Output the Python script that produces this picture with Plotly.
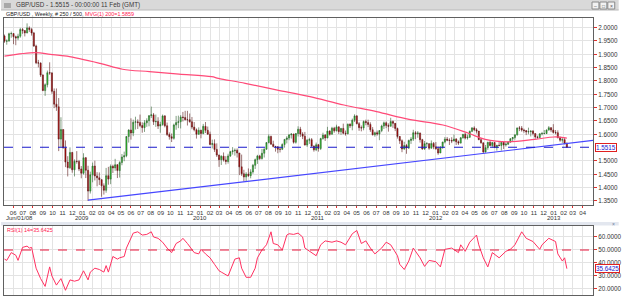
import plotly.graph_objects as go
import pandas as pd

# ---------------- data ----------------
first_week = "2008-05-05"
n_weeks = 250
first_open = 1.9690

close = [
    1.9490, 1.9500, 1.9770, 1.9780, 1.9660, 1.9610, 1.9680, 1.9930, 1.9890, 1.9800,
    1.9990, 1.9930, 1.9800, 1.9310, 1.8680, 1.8670, 1.8220, 1.7640, 1.7860, 1.8310,
    1.8300, 1.7610, 1.7130, 1.7030, 1.5820, 1.6180, 1.5490, 1.4960, 1.4750, 1.5320,
    1.4670, 1.4990, 1.4980, 1.4700, 1.4540, 1.5120, 1.4650, 1.3870, 1.4480, 1.4810,
    1.4440, 1.4370, 1.4300, 1.4070, 1.3900, 1.4450, 1.4320, 1.4800, 1.4740, 1.4860,
    1.4640, 1.4940, 1.5150, 1.5200, 1.5920, 1.6160, 1.6050, 1.6450, 1.6470, 1.6440,
    1.6330, 1.6250, 1.6430, 1.6510, 1.6700, 1.6730, 1.6470, 1.6480, 1.6310, 1.6370,
    1.6690, 1.6320, 1.5990, 1.5910, 1.5850, 1.6350, 1.6440, 1.6470, 1.6650, 1.6630,
    1.6550, 1.6550, 1.6470, 1.6270, 1.6170, 1.6000, 1.6150, 1.6030, 1.6300, 1.6150,
    1.6000, 1.5620, 1.5650, 1.5430, 1.5220, 1.5050, 1.5180, 1.5040, 1.4980, 1.5190,
    1.5350, 1.5380, 1.5400, 1.5300, 1.4780, 1.4520, 1.4400, 1.4510, 1.4450, 1.4590,
    1.4840, 1.5050, 1.5190, 1.5090, 1.5290, 1.5440, 1.5690, 1.5920, 1.5630, 1.5540,
    1.5530, 1.5440, 1.5440, 1.5620, 1.5810, 1.5860, 1.5980, 1.6010, 1.5700, 1.6030,
    1.6190, 1.6010, 1.5930, 1.5600, 1.5780, 1.5800, 1.5560, 1.5420, 1.5610, 1.5470,
    1.5840, 1.5970, 1.5860, 1.6120, 1.6000, 1.6230, 1.6130, 1.6280, 1.6100, 1.6220,
    1.6040, 1.6020, 1.6380, 1.6320, 1.6530, 1.6690, 1.6400, 1.6250, 1.6240, 1.6480,
    1.6440, 1.6370, 1.6170, 1.5980, 1.6060, 1.6010, 1.6140, 1.6310, 1.6430, 1.6330,
    1.6300, 1.6480, 1.6410, 1.6220, 1.5920, 1.5760, 1.5450, 1.5580, 1.5490, 1.5770,
    1.5820, 1.6060, 1.6020, 1.6050, 1.5800, 1.5450, 1.5650, 1.5650, 1.5480, 1.5660,
    1.5530, 1.5460, 1.5300, 1.5500, 1.5710, 1.5820, 1.5780, 1.5770, 1.5750, 1.5820,
    1.5720, 1.5670, 1.5870, 1.6000, 1.5860, 1.5890, 1.6110, 1.6240, 1.6170, 1.6120,
    1.5800, 1.5680, 1.5340, 1.5500, 1.5700, 1.5580, 1.5690, 1.5500, 1.5590, 1.5580,
    1.5700, 1.5600, 1.5630, 1.5710, 1.5830, 1.5880, 1.5980, 1.6240, 1.6230, 1.6160,
    1.6140, 1.6090, 1.6100, 1.6120, 1.6030, 1.5900, 1.5880, 1.6020, 1.6030, 1.6030,
    1.6160, 1.6250, 1.6160, 1.6070, 1.6060, 1.5870, 1.5780, 1.5800, 1.5650, 1.5515,
]

high = [
    1.9740, 1.9560, 1.9810, 1.9850, 1.9780, 1.9700, 1.9770, 1.9990, 1.9990, 1.9900,
    2.0160, 2.0050, 1.9990, 1.9840, 1.9360, 1.8790, 1.8700, 1.8250, 1.7910, 1.8390,
    1.8700, 1.8330, 1.7720, 1.7720, 1.7360, 1.6640, 1.6180, 1.5770, 1.5180, 1.5510,
    1.5340, 1.5060, 1.5370, 1.5040, 1.4810, 1.5290, 1.5150, 1.4820, 1.4600, 1.4940,
    1.5010, 1.4580, 1.4570, 1.4310, 1.4160, 1.4740, 1.4780, 1.4870, 1.4860, 1.5080,
    1.4880, 1.4990, 1.5260, 1.5350, 1.5930, 1.6190, 1.6600, 1.6550, 1.6660, 1.6560,
    1.6740, 1.6450, 1.6530, 1.6600, 1.6720, 1.7040, 1.6800, 1.6740, 1.6640, 1.6470,
    1.6740, 1.6720, 1.6440, 1.6070, 1.6030, 1.6400, 1.6690, 1.6700, 1.6720, 1.6840,
    1.6880, 1.6880, 1.6780, 1.6650, 1.6460, 1.6220, 1.6260, 1.6170, 1.6390, 1.6460,
    1.6290, 1.6100, 1.5800, 1.5810, 1.5660, 1.5240, 1.5210, 1.5320, 1.5180, 1.5270,
    1.5380, 1.5520, 1.5470, 1.5470, 1.5300, 1.5240, 1.4670, 1.4580, 1.4720, 1.4690,
    1.4890, 1.5090, 1.5230, 1.5230, 1.5450, 1.5480, 1.5700, 1.6000, 1.5950, 1.5760,
    1.5570, 1.5550, 1.5510, 1.5660, 1.5820, 1.5930, 1.6000, 1.6040, 1.6020, 1.6050,
    1.6300, 1.6280, 1.6080, 1.6090, 1.5820, 1.5870, 1.5860, 1.5580, 1.5690, 1.5640,
    1.5870, 1.6060, 1.6010, 1.6280, 1.6150, 1.6280, 1.6280, 1.6360, 1.6290, 1.6240,
    1.6400, 1.6140, 1.6400, 1.6410, 1.6590, 1.6750, 1.6720, 1.6460, 1.6330, 1.6520,
    1.6550, 1.6550, 1.6450, 1.6270, 1.6100, 1.6140, 1.6160, 1.6360, 1.6480, 1.6480,
    1.6410, 1.6620, 1.6520, 1.6330, 1.6250, 1.5900, 1.5810, 1.5720, 1.5640, 1.5800,
    1.5900, 1.6170, 1.6120, 1.6120, 1.6060, 1.5830, 1.5750, 1.5710, 1.5660, 1.5770,
    1.5710, 1.5710, 1.5540, 1.5560, 1.5720, 1.5900, 1.5900, 1.5850, 1.5890, 1.5990,
    1.5860, 1.5770, 1.5900, 1.6010, 1.6060, 1.5990, 1.6140, 1.6270, 1.6300, 1.6230,
    1.6110, 1.5860, 1.5690, 1.5600, 1.5720, 1.5780, 1.5710, 1.5710, 1.5600, 1.5710,
    1.5710, 1.5700, 1.5700, 1.5740, 1.5860, 1.5900, 1.6000, 1.6250, 1.6310, 1.6310,
    1.6210, 1.6150, 1.6250, 1.6150, 1.6160, 1.6030, 1.5950, 1.6040, 1.6090, 1.6160,
    1.6180, 1.6310, 1.6260, 1.6380, 1.6160, 1.6150, 1.5910, 1.5860, 1.5880, 1.5700,
]

low = [
    1.9430, 1.9360, 1.9470, 1.9620, 1.9380, 1.9340, 1.9530, 1.9620, 1.9770, 1.9670,
    1.9790, 1.9840, 1.9700, 1.9280, 1.8630, 1.8510, 1.8150, 1.7620, 1.7440, 1.7760,
    1.8230, 1.7520, 1.6980, 1.6880, 1.5370, 1.5530, 1.5470, 1.4770, 1.4420, 1.4700,
    1.4560, 1.4420, 1.4900, 1.4620, 1.4350, 1.4490, 1.4360, 1.3500, 1.3780, 1.4200,
    1.4270, 1.4050, 1.4100, 1.3660, 1.3740, 1.3810, 1.4110, 1.4130, 1.4550, 1.4630,
    1.4360, 1.4380, 1.4840, 1.4990, 1.5140, 1.5690, 1.5800, 1.5930, 1.6180, 1.6200,
    1.6270, 1.6060, 1.6090, 1.6280, 1.6300, 1.6610, 1.6350, 1.6280, 1.6200, 1.6060,
    1.6320, 1.6260, 1.5940, 1.5800, 1.5710, 1.5800, 1.6170, 1.6230, 1.6220, 1.6480,
    1.6520, 1.6330, 1.6440, 1.6190, 1.6110, 1.5840, 1.5990, 1.5850, 1.6000, 1.6050,
    1.5990, 1.5590, 1.5470, 1.5340, 1.5150, 1.4780, 1.4850, 1.4980, 1.4870, 1.4900,
    1.5150, 1.5240, 1.5200, 1.5130, 1.4470, 1.4440, 1.4230, 1.4240, 1.4400, 1.4350,
    1.4520, 1.4700, 1.4890, 1.5040, 1.5050, 1.5130, 1.5420, 1.5660, 1.5610, 1.5510,
    1.5350, 1.5290, 1.5320, 1.5410, 1.5500, 1.5660, 1.5780, 1.5840, 1.5650, 1.5650,
    1.5920, 1.5900, 1.5820, 1.5580, 1.5530, 1.5640, 1.5530, 1.5350, 1.5370, 1.5350,
    1.5410, 1.5800, 1.5750, 1.5860, 1.5950, 1.6000, 1.6060, 1.6110, 1.6010, 1.5980,
    1.6000, 1.5950, 1.6000, 1.6240, 1.6150, 1.6460, 1.6370, 1.6130, 1.6110, 1.6150,
    1.6340, 1.6270, 1.6090, 1.5960, 1.5910, 1.5950, 1.5780, 1.6080, 1.6200, 1.6230,
    1.6100, 1.6300, 1.6240, 1.6120, 1.5840, 1.5640, 1.5330, 1.5420, 1.5270, 1.5450,
    1.5640, 1.5750, 1.5820, 1.5870, 1.5690, 1.5420, 1.5420, 1.5530, 1.5420, 1.5470,
    1.5440, 1.5420, 1.5230, 1.5300, 1.5460, 1.5660, 1.5740, 1.5600, 1.5670, 1.5740,
    1.5600, 1.5600, 1.5660, 1.5840, 1.5810, 1.5800, 1.5860, 1.6080, 1.6120, 1.6030,
    1.5780, 1.5650, 1.5270, 1.5310, 1.5420, 1.5550, 1.5500, 1.5490, 1.5390, 1.5550,
    1.5390, 1.5450, 1.5540, 1.5600, 1.5680, 1.5720, 1.5800, 1.5950, 1.6120, 1.6100,
    1.6060, 1.5970, 1.6000, 1.5920, 1.5960, 1.5830, 1.5830, 1.5860, 1.5960, 1.6000,
    1.6010, 1.6140, 1.6080, 1.6030, 1.6000, 1.5850, 1.5720, 1.5680, 1.5630, 1.5490,
]

# 200-week moving average
ma_dates = ["2008-05-05", "2008-08-09", "2008-09-24", "2008-11-15", "2009-02-25",
            "2009-05-06", "2009-07-28", "2009-10-28", "2010-02-06", "2010-02-27",
            "2010-05-21", "2010-08-29", "2010-12-08", "2011-03-23", "2011-07-02",
            "2011-10-11", "2012-01-24", "2012-04-12", "2012-06-03", "2012-08-13",
            "2012-11-03", "2013-01-03", "2013-02-11"]
ma_values = [1.893, 1.906, 1.900, 1.893, 1.866,
             1.844, 1.835, 1.826, 1.816, 1.810,
             1.791, 1.766, 1.741, 1.710, 1.685,
             1.656, 1.635, 1.604, 1.581, 1.572,
             1.581, 1.590, 1.5859]

# support trend line
trend_dates = ["2009-01-19", "2013-05-03"]
trend_values = [1.3530, 1.5770]

last_price = 1.5515

# RSI(14) (week index -> value)
rsi_week = [0, 1, 3, 4, 5, 6, 8, 10, 11, 12, 13, 14, 16, 18, 20, 21, 23, 25, 27, 29,
            31, 33, 35, 37, 38, 40, 42, 44, 45, 46, 48, 50, 51, 53, 54, 56, 57, 59, 61, 63,
            65, 66, 68, 70, 72, 74, 76, 78, 79, 81, 82, 84, 86, 87, 89, 91, 93, 95, 96, 98,
            99, 102, 104, 105, 107, 109, 111, 112, 114, 116, 118, 119, 121, 123, 125, 126, 128, 130, 132, 133,
            136, 138, 140, 142, 145, 147, 149, 151, 154, 156, 158, 160, 162, 164, 167, 169, 171, 174, 175, 177,
            179, 181, 184, 186, 188, 191, 193, 195, 198, 201, 202, 204, 206, 209, 210, 212, 214, 216, 219, 222,
            224, 226, 229, 231, 234, 237, 238, 241, 244, 245, 247, 248, 249]
rsi_value = [43, 42, 48, 47, 46, 42, 52, 53, 51.5, 52, 44, 36, 28, 22, 37, 30, 23, 28, 19, 27,
             26, 27, 34, 27, 33, 36, 35, 33, 38, 33, 45, 43, 44, 45, 51.5, 60, 63, 64, 61.5, 62,
             64, 60, 59, 56, 51.5, 48, 55, 57, 59, 55, 52.5, 48, 47, 50.5, 47, 44, 39, 34, 33, 31,
             30, 43, 44, 36, 29, 29, 36, 44, 50, 54, 64, 55, 54, 50, 61.5, 62.5, 62, 63, 60, 51.5,
             48, 45.6, 54, 57, 56, 57, 56, 54, 62.5, 65, 55, 57, 51.5, 47, 51.5, 56, 54, 45.6, 39, 35,
             41.5, 51.5, 44, 37.4, 42, 41, 37, 50.5, 51.5, 48, 54, 49, 56, 61.5, 54, 44, 37, 48, 44, 49,
             50.5, 54, 64, 59, 56.5, 50.5, 54, 59, 56.5, 47, 41.5, 44, 35.6425]

tick_months = pd.date_range("2008-06-01", "2013-04-01", freq="MS")
start_label = "Jun/01/08"
year_label_dates = ["2009-01-01", "2010-01-01", "2011-01-01", "2012-01-01", "2013-01-01"]
year_label_text = ["2009", "2010", "2011", "2012", "2013"]
price_ticks = [1.35, 1.40, 1.45, 1.50, 1.60, 1.65, 1.70, 1.75, 1.80, 1.85, 1.90, 1.95, 2.00]
rsi_ticks = [20, 30, 40, 50, 60]

# ---------------- derived ----------------
weeks = pd.date_range(first_week, periods=n_weeks, freq="7D")
opens = [first_open] + close[:-1]
rsi_dates = [weeks[i] for i in rsi_week]
tick_text = [d.strftime("%m") for d in tick_months]

# pixel helpers (plot area: x 3..599, y 18..295)
def px(x):
    return (x - 3) / 596.0

def py(y):
    return (295 - y) / 277.0

FONT = "Liberation Sans"
GRID = "#e3e3e3"
AXLINE = "#606060"
TICKRED = "#e03030"

fig = go.Figure()

fig.add_trace(go.Candlestick(
    x=weeks, open=opens, high=high, low=low, close=close,
    increasing=dict(fillcolor="#22d022", line=dict(color="#2f5f2f", width=0.6)),
    decreasing=dict(fillcolor="#c00000", line=dict(color="#5a1a1a", width=0.6)),
    whiskerwidth=0, xaxis="x", yaxis="y", hoverinfo="skip"))

fig.add_trace(go.Scatter(x=ma_dates, y=ma_values, mode="lines",
                         line=dict(color="#ff4a78", width=1.2, shape="spline"),
                         xaxis="x", yaxis="y", hoverinfo="skip"))

fig.add_trace(go.Scatter(x=trend_dates, y=trend_values, mode="lines",
                         line=dict(color="#4646ff", width=1.2),
                         xaxis="x", yaxis="y", hoverinfo="skip"))

fig.add_trace(go.Scatter(x=rsi_dates, y=rsi_value, mode="lines",
                         line=dict(color="#ff3060", width=1),
                         xaxis="x2", yaxis="y2", hoverinfo="skip"))

x_range = ["2008-05-03 12:00", "2013-05-03"]

axis_common = dict(showline=True, linecolor=AXLINE, linewidth=1, mirror=True,
                   showgrid=True, gridcolor=GRID, gridwidth=1, zeroline=False)

fig.update_layout(
    width=625, height=299,
    margin=dict(l=3, r=26, t=18, b=4),
    paper_bgcolor="white", plot_bgcolor="white",
    showlegend=False,
    font=dict(family=FONT, size=6, color="#333333"),
    xaxis=dict(domain=[0, 1], anchor="y", type="date", range=x_range,
               tickmode="array", tickvals=list(tick_months), ticktext=tick_text,
               tickangle=0, ticks="outside", tickcolor=TICKRED, ticklen=2, tickwidth=1,
               tickfont=dict(family=FONT, size=6, color="#333333"),
               rangeslider=dict(visible=False), **axis_common),
    yaxis=dict(domain=[0.3267, 1], anchor="x", side="right",
               range=[1.3368, 2.0361], tickmode="array",
               tickvals=price_ticks, tickformat=".4f",
               ticks="outside", tickcolor=TICKRED, ticklen=3, tickwidth=1,
               tickfont=dict(family=FONT, size=6.3, color="#333333"),
               **axis_common),
    xaxis2=dict(domain=[0, 1], anchor="y2", type="date", matches="x",
                tickmode="array", tickvals=list(tick_months),
                showticklabels=False, ticks="", **axis_common),
    yaxis2=dict(domain=[0, 0.2491], anchor="x2", side="right",
                range=[15.38, 68.46], tickmode="array",
                tickvals=rsi_ticks, tickformat=".4f",
                ticks="outside", tickcolor=TICKRED, ticklen=3, tickwidth=1,
                tickfont=dict(family=FONT, size=6.3, color="#333333"),
                **axis_common),
)

shapes = []
# current price dashed line
shapes.append(dict(type="line", xref="x domain", yref="y", x0=0, x1=1,
                   y0=last_price, y1=last_price,
                   line=dict(color="#1a1acc", width=1.2, dash="dash")))
# RSI 50 dashed line
shapes.append(dict(type="line", xref="x2 domain", yref="y2", x0=0, x1=1,
                   y0=50, y1=50, line=dict(color="#e8163c", width=1.2, dash="dash")))
# window title bar
shapes.append(dict(type="rect", xref="paper", yref="paper",
                   x0=px(0), x1=px(625), y0=py(10), y1=py(0),
                   fillcolor="#d9d9d9", line=dict(width=0), layer="below"))
shapes.append(dict(type="line", xref="paper", yref="paper",
                   x0=px(0), x1=px(625), y0=py(10), y1=py(10),
                   line=dict(color="#b8b8b8", width=1)))
# little chart icon
shapes.append(dict(type="rect", xref="paper", yref="paper",
                   x0=px(3), x1=px(10), y0=py(8), y1=py(3),
                   fillcolor="#a8a8a8", line=dict(width=0)))
# window buttons
for bx in (598, 606, 614):
    shapes.append(dict(type="rect", xref="paper", yref="paper",
                       x0=px(bx), x1=px(bx + 7), y0=py(9), y1=py(2),
                       fillcolor="#f2f2f2", line=dict(color="#8a8a8a", width=1)))
# separator between panels
shapes.append(dict(type="rect", xref="paper", yref="paper",
                   x0=px(0), x1=px(625), y0=py(225.5), y1=py(222),
                   fillcolor="#e3e7ef", line=dict(width=0), layer="below"))
fig.update_layout(shapes=shapes)

ann = []
ann.append(dict(xref="paper", yref="paper", x=px(13), y=py(5), xanchor="left",
                yanchor="middle", showarrow=False,
                text="GBP/USD - 1.5515 - 00:00:00 11 Feb (GMT)",
                font=dict(family=FONT, size=6.3, color="#3a3a3a")))
ann.append(dict(xref="paper", yref="paper", x=px(3), y=py(14), xanchor="left",
                yanchor="middle", showarrow=False,
                text="GBP/USD , Weekly, # 250 / 500, "
                     "<span style='color:#ff2050'>MVG(1) 200=1.5859</span>",
                font=dict(family=FONT, size=5.4, color="#222222")))
for bx, sym in ((598, "–"), (606, "□"), (614, "×")):
    ann.append(dict(xref="paper", yref="paper", x=px(bx + 3.5), y=py(5.5),
                    xanchor="center", yanchor="middle", showarrow=False,
                    text=sym, font=dict(family=FONT, size=5, color="#555555")))
ann.append(dict(xref="paper", yref="paper", x=px(3), y=py(217.5), xanchor="left",
                yanchor="middle", showarrow=False, text=start_label,
                font=dict(family=FONT, size=6, color="#333333")))
for d, t in zip(year_label_dates, year_label_text):
    ann.append(dict(xref="x", yref="paper", x=d, y=py(217.5), xanchor="center",
                    yanchor="middle", showarrow=False, text=t,
                    font=dict(family=FONT, size=6, color="#333333")))
ann.append(dict(xref="paper", yref="paper", x=px(4), y=py(229.5), xanchor="left",
                yanchor="middle", showarrow=False,
                text="RSI(1) 14=35.6425",
                font=dict(family=FONT, size=5.4, color="#ff2050")))
ann.append(dict(xref="paper", yref="y", x=px(601), y=last_price, xanchor="left",
                yanchor="middle", showarrow=False, text="1.5515",
                bgcolor="white", bordercolor="#e02020", borderwidth=1, borderpad=0,
                font=dict(family=FONT, size=6.3, color="#2020d0")))
ann.append(dict(xref="paper", yref="y2", x=px(601), y=rsi_value[-1], xanchor="left",
                yanchor="middle", showarrow=False, text="35.6425",
                bgcolor="white", bordercolor="#e02020", borderwidth=1, borderpad=0,
                font=dict(family=FONT, size=6.3, color="#2020d0")))
ann.append(dict(xref="paper", yref="paper", x=px(620), y=py(223.7), xanchor="center",
                yanchor="middle", showarrow=False, text="×",
                font=dict(family=FONT, size=5, color="#7080a0")))
fig.update_layout(annotations=ann)

fig.write_html("out.html")
